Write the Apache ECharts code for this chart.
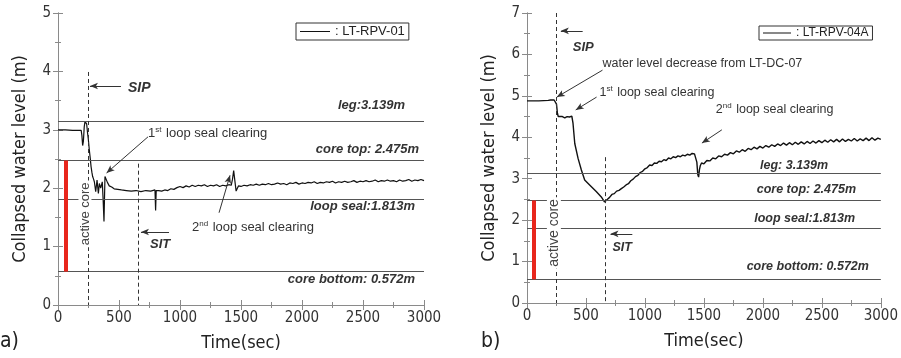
<!DOCTYPE html>
<html><head><meta charset="utf-8">
<script src="https://cdn.jsdelivr.net/npm/echarts@6/dist/echarts.min.js"></script>
<style>html,body{margin:0;padding:0;background:#fff}#c{width:901px;height:358px}</style>
</head><body><div id="c"></div>
<script>
// ---- data (panel a: LT-RPV-01) ----
const timeA = [0,60,120,190,196,202,208,215,221,228,235,242,249,257,264,271,278,284,291,298,309,320,331,339,350,363,370,377,385,393,405,420,440,460,490,520,560,600,640,680,720,760,795,800,805,
825,850,875,900,925,950,975,1000,1025,1050,1075,1100,1125,1150,1175,1200,1225,1250,1275,1300,1325,1350,1375,1400,1420,1430,1440,1450,1460,1470,1480,
1500,1525,1550,1575,1600,1625,1650,1675,1700,1725,1750,1775,1800,1825,1850,1875,1900,1925,1950,1975,2000,2025,2050,2075,2100,2125,2150,2175,2200,2225,2250,2275,2300,2325,2350,2375,2400,2425,2450,2475,2500,2525,2550,2575,2600,2625,2650,2675,2700,2725,2750,2775,2800,2825,2850,2875,2900,2925,2950,2975,3000];
const levelA = [3.00,3.00,2.99,2.99,2.90,2.73,2.80,3.05,3.14,3.12,3.10,2.95,2.83,2.65,2.52,2.37,2.27,2.20,2.16,2.11,1.94,2.14,1.91,2.08,2.00,2.11,1.80,1.43,2.20,2.23,2.10,2.04,2.02,1.99,1.98,1.97,1.96,1.95,1.96,1.94,1.96,1.95,1.97,1.62,1.96,
1.96,1.95,1.97,1.96,1.99,1.98,2.01,2.03,2.01,2.04,2.02,2.05,2.03,2.05,2.04,2.06,2.03,2.05,2.04,2.06,2.03,2.05,2.04,2.06,2.05,2.15,2.30,2.12,1.95,2.00,2.04,
2.03,2.05,2.04,2.06,2.05,2.07,2.05,2.07,2.06,2.08,2.06,2.07,2.09,2.07,2.08,2.06,2.09,2.08,2.10,2.07,2.09,2.08,2.10,2.09,2.11,2.08,2.10,2.09,2.11,2.10,2.12,2.09,2.11,2.10,2.12,2.10,2.11,2.13,2.10,2.12,2.11,2.13,2.11,2.12,2.14,2.11,2.13,2.12,2.14,2.12,2.13,2.11,2.14,2.12,2.13,2.15,2.12,2.14,2.13,2.15,2.13];
// ---- data (panel b: LT-RPV-04A) ----
const timeB = [0,100,180,190,200,230,245,250,258,265,280,300,320,340,360,380,390,405,433,461,489,531,587,630,657,680,700,720,740,760,780,800,820,840,860,880,900,920,940,960,980,1000,1020,1040,1060,1080,1100,1120,1140,1160,1180,1200,1220,1240,1260,1280,1300,1320,1340,1360,1380,1400,1420,1435,1440,1448,1455,1462,1470,1480,
1500,1525,1550,1575,1600,1625,1650,1675,1700,1725,1750,1775,1800,1825,1850,1875,1900,1925,1950,1975,2000,2025,2050,2075,2100,2125,2150,2175,2200,2225,2250,2275,2300,2325,2350,2375,2400,2425,2450,2475,2500,2525,2550,2575,2600,2625,2650,2675,2700,2725,2750,2775,2800,2825,2850,2875,2900,2925,2950,2975,3000];
const levelB = [4.88,4.88,4.89,4.93,4.90,4.90,4.92,4.80,4.58,4.50,4.48,4.50,4.47,4.50,4.49,4.51,4.34,3.85,3.49,3.21,2.97,2.85,2.69,2.56,2.44,2.50,2.55,2.62,2.64,2.70,2.72,2.76,2.80,2.85,2.88,2.95,2.99,3.05,3.08,3.15,3.18,3.24,3.27,3.33,3.32,3.38,3.37,3.42,3.41,3.46,3.44,3.50,3.48,3.53,3.51,3.55,3.53,3.57,3.55,3.59,3.57,3.61,3.60,3.64,3.40,3.10,3.04,3.22,3.32,3.38,
3.36,3.44,3.43,3.50,3.48,3.55,3.53,3.59,3.57,3.63,3.60,3.67,3.64,3.70,3.66,3.73,3.70,3.76,3.72,3.78,3.74,3.80,3.76,3.82,3.78,3.84,3.80,3.86,3.81,3.87,3.82,3.88,3.83,3.89,3.84,3.90,3.85,3.91,3.86,3.92,3.87,3.93,3.88,3.94,3.89,3.95,3.89,3.96,3.90,3.95,3.91,3.97,3.91,3.96,3.92,3.98,3.92,3.99,3.93,3.98,3.95];
// ---- reference levels & events ----
const refLevels = [3.139, 2.475, 1.813, 0.572];
const coreRange = [0.572, 2.475];
const eventsA = {sip: 246, sit: 656, bar: 65};
const eventsB = {sip: 244, sit: 666, bar: 60};
const xMax = 3000, yMaxA = 5, yMaxB = 7;

const FONT_AX = '"Liberation Sans Narrow","DejaVu Sans Condensed",sans-serif';
const FONT_TX = '"Liberation Sans",Arial,sans-serif';
const AXC = '#8a8a8a';

function xAx(grid, top) {
  return {type:'value', gridIndex:grid, position: top?'top':'bottom', min:0, max:xMax, interval:500,
    axisLine:{show:true,lineStyle:{color:AXC,width:1}},
    axisTick:{show:true,inside:true,length:5,lineStyle:{color:AXC}},
    minorTick:{show:true,splitNumber:2,length:3,lineStyle:{color:AXC}},
    splitLine:{show:false},
    axisLabel:{show:!top,color:'#333',fontSize:15,fontFamily:FONT_AX,margin:6,formatter:v=>String(v)},
    name: top?'':'Time(sec)', nameLocation:'middle', nameGap:29,
    nameTextStyle:{color:'#222',fontSize:18,fontFamily:FONT_AX}};
}
function yAx(grid, right, max) {
  return {type:'value', gridIndex:grid, position: right?'right':'left', min:0, max:max, interval:1,
    axisLine:{show:true,lineStyle:{color:AXC,width:1}},
    axisTick:{show:true,inside:true,length:5,lineStyle:{color:AXC}},
    minorTick:{show:true,splitNumber:2,length:3,lineStyle:{color:AXC}},
    splitLine:{show:false},
    axisLabel:{show:!right,color:'#333',fontSize:15,fontFamily:FONT_AX,margin:7,formatter:v=>String(v)},
    name: right?'':'Collapsed water level (m)', nameLocation:'middle', nameGap:29,
    nameTextStyle:{color:'#222',fontSize:18,fontFamily:FONT_AX}};
}
function marks(ev, sipTop, sitTop, arrows) {
  const data = refLevels.map(v => ({yAxis:v, lineStyle:{color:'#555',width:1,type:'solid'}}));
  data.push([{coord:[ev.sip,sipTop]},{coord:[ev.sip,0]}].map(o=>Object.assign(o,{lineStyle:{color:'#333',width:1,type:[4,3]}})));
  data.push([{coord:[ev.sit,sitTop]},{coord:[ev.sit,0]}].map(o=>Object.assign(o,{lineStyle:{color:'#333',width:1,type:[4,3]}})));
  data.push([{coord:[ev.bar,coreRange[0]]},{coord:[ev.bar,coreRange[1]]}].map(o=>Object.assign(o,{lineStyle:{color:'#e8261c',width:4,type:'solid'}})));
  arrows.forEach(a => {
    data.push([{coord:a[0],symbol:'none'},{coord:a[1],symbol:'arrow',symbolSize:[5,8]}].map(o=>Object.assign(o,{lineStyle:{color:'#333',width:1,type:'solid'}})));
  });
  return {silent:true, symbol:['none','none'], label:{show:false}, animation:false, data:data};
}
const arrowsA = [[[516,3.75],[262,3.75]], [[738,2.88],[398,2.26]], [[910,1.25],[680,1.25]], [[1320,1.58],[1410,2.22]]];
const arrowsB = [[[472,6.57],[287,6.57]], [[640,5.62],[253,4.97]], [[590,4.97],[413,4.66]], [[1652,4.18],[1483,3.86]], [[893,1.67],[708,1.67]]];

const chart = echarts.init(document.getElementById('c'), null, {renderer:'canvas'});
const legendBase = {orient:'horizontal', borderColor:'#333', borderWidth:1, itemWidth:30, itemHeight:1, icon:'rect',
  itemGap:0, formatter:': {name}', selectedMode:false};
chart.setOption({
  animation:false,
  backgroundColor:'#fff',
  title:[
    {text:'a)', left:0, top:331, padding:0, textStyle:{fontSize:21,fontWeight:'normal',color:'#222',fontFamily:FONT_AX}},
    {text:'b)', left:481, top:331, padding:0, textStyle:{fontSize:21,fontWeight:'normal',color:'#222',fontFamily:FONT_AX}}
  ],
  legend:[
    Object.assign({}, legendBase, {data:['LT-RPV-01'], left:296, top:23, padding:[2,4,2,4], textStyle:{fontSize:13,fontFamily:FONT_TX,color:'#222'}}),
    Object.assign({}, legendBase, {data:['LT-RPV-04A'], left:759, top:26, padding:[1,4,1,4], itemWidth:28, textStyle:{fontSize:12,fontFamily:FONT_TX,color:'#222'}})
  ],
  grid:[
    {left:58, top:13, width:366, height:292},
    {left:527, top:13, width:356, height:290}
  ],
  xAxis:[xAx(0,false), xAx(0,true), xAx(1,false), xAx(1,true)],
  yAxis:[yAx(0,false,yMaxA), yAx(0,true,yMaxA), yAx(1,false,yMaxB), yAx(1,true,yMaxB)],
  series:[
    {name:'LT-RPV-01', type:'line', xAxisIndex:0, yAxisIndex:0, symbol:'none', smooth:false,
      data: timeA.map((t,i)=>[t, levelA[i]]), lineStyle:{color:'#111',width:1.2}, itemStyle:{color:'#111'},
      markLine: marks(eventsA, 3.99, 2.42, arrowsA), z:3},
    {name:'LT-RPV-04A', type:'line', xAxisIndex:2, yAxisIndex:2, symbol:'none', smooth:false,
      data: timeB.map((t,i)=>[t, levelB[i]]), lineStyle:{color:'#111',width:1.4}, itemStyle:{color:'#111'},
      markLine: marks(eventsB, 7, 3.52, arrowsB), z:3}
  ]
});

// ---- text annotations placed through the axes ----
const annA = [
  {t:574, v:3.72, text:'SIP', bold:true, align:'left', size:14},
  {t:738, v:2.93, text:'1{sup|st} loop seal clearing', align:'left', size:13},
  {t:2845, v:3.41, text:'leg:3.139m', bold:true, align:'right', size:13},
  {t:2960, v:2.67, text:'core top: 2.475m', bold:true, align:'right', size:13},
  {t:2926, v:1.68, text:'loop seal:1.813m', bold:true, align:'right', size:13},
  {t:2926, v:0.43, text:'core bottom: 0.572m', bold:true, align:'right', size:13},
  {t:754, v:1.04, text:'SIT', bold:true, align:'left', size:13},
  {t:1098, v:1.32, text:'2{sup|nd} loop seal clearing', align:'left', size:13},
  {t:221, v:1.56, text:'active core', rot:true, size:13}
];
const annB = [
  {t:388, v:6.18, text:'SIP', bold:true, align:'left', size:13},
  {t:640, v:5.79, text:'water level decrease from LT-DC-07', align:'left', size:12.5},
  {t:615, v:5.09, text:'1{sup|st} loop seal clearing', align:'left', size:12.5},
  {t:1601, v:4.66, text:'2{sup|nd} loop seal clearing', align:'left', size:12.5},
  {t:2553, v:3.31, text:'leg: 3.139m', bold:true, align:'right', size:12.5},
  {t:2790, v:2.75, text:'core top: 2.475m', bold:true, align:'right', size:12.5},
  {t:2781, v:2.05, text:'loop seal:1.813m', bold:true, align:'right', size:12.5},
  {t:2899, v:0.87, text:'core bottom: 0.572m', bold:true, align:'right', size:12.5},
  {t:725, v:1.35, text:'SIT', bold:true, align:'left', size:12.5},
  {t:228, v:1.69, text:'active core', rot:true, size:14}
];
function build(list, grid) {
  return list.map(a => {
    const p = chart.convertToPixel({xAxisIndex: grid*2, yAxisIndex: grid*2}, [a.t, a.v]);
    const style = {
      text:a.text, fill:'#333',
      font:(a.bold?'italic bold ':'') + a.size + 'px ' + FONT_TX,
      align: a.rot ? 'center' : a.align, verticalAlign:'middle',
      rich:{sup:{fontSize:Math.round(a.size*0.62), fontFamily:FONT_TX, fill:'#333', verticalAlign:'top', lineHeight:a.size+3, padding:[0,1,0,0]}}
    };
    if (a.rot) { style.backgroundColor = '#fff'; style.padding=[0,2,0,2]; style.fill='#444'; }
    return {type:'text', x:p[0], y:p[1], rotation: a.rot ? Math.PI/2 : 0, z:100, silent:true, style:style};
  });
}
chart.setOption({graphic: build(annA,0).concat(build(annB,1))});
</script></body></html>
